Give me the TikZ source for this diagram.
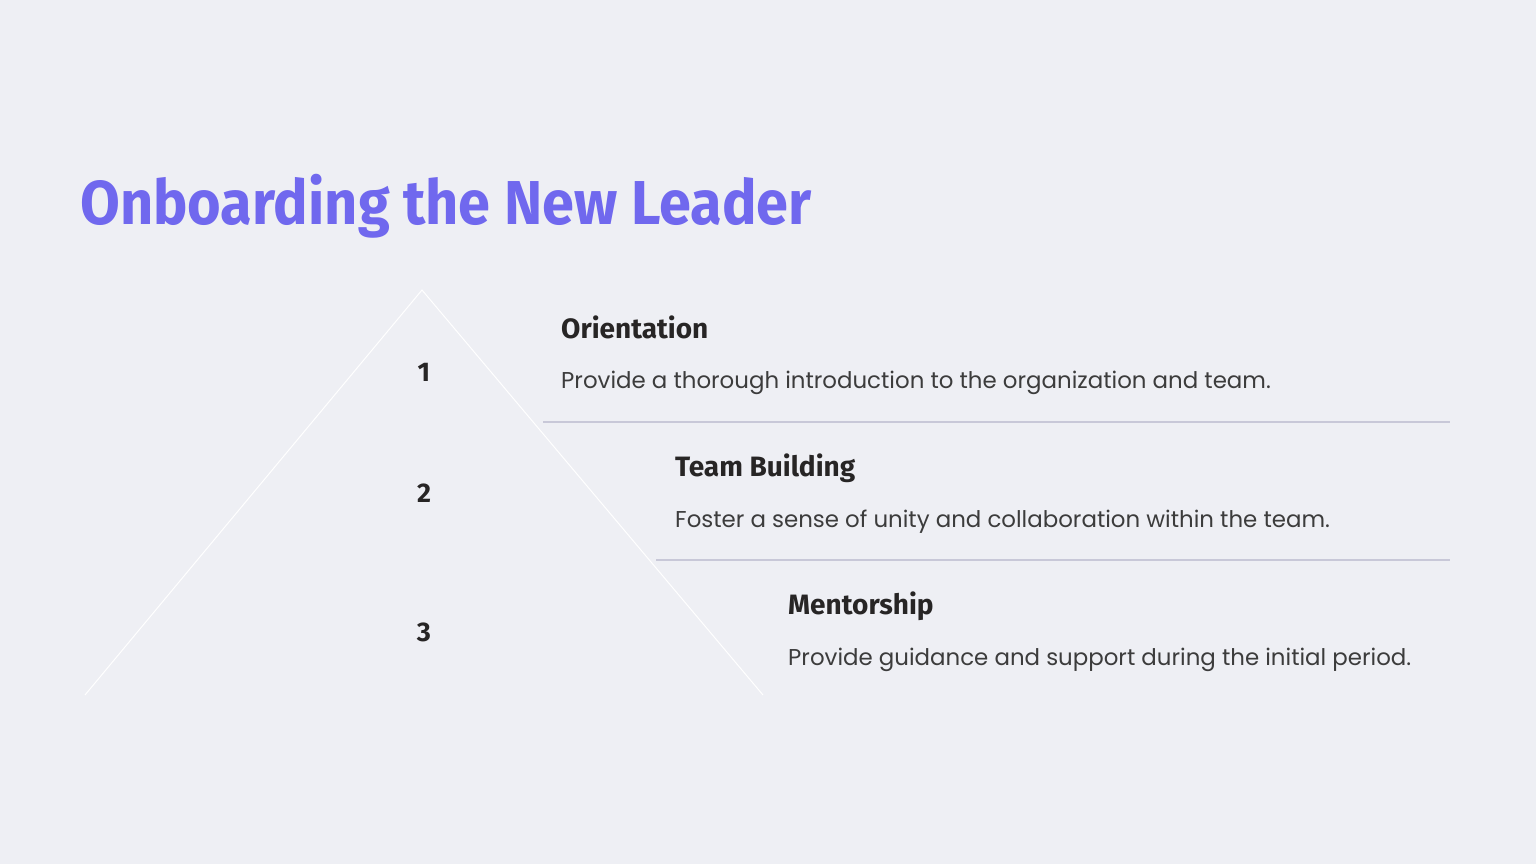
\documentclass[tikz,border=0pt]{standalone}
\usepackage{fontspec}
\setmainfont{Fira Sans}
\newfontfamily\titlefont[FakeStretch=0.93]{Fira Sans}
\newfontfamily\bodyfont{Poppins}
\definecolor{bg}{HTML}{EEEFF4}
\definecolor{titlec}{HTML}{7068EE}
\definecolor{headc}{HTML}{272525}
\definecolor{bodyc}{HTML}{3C3C3C}
\definecolor{rulec}{HTML}{C8C8D8}
\tikzset{
  titletext/.style={anchor=base west, inner sep=0, text=titlec, font=\titlefont\fontsize{62}{70}\selectfont\bfseries},
  headtext/.style={anchor=base west, inner sep=0, text=headc, font=\fontsize{28}{32}\selectfont\bfseries},
  desctext/.style={anchor=base west, inner sep=0, text=bodyc, font=\bodyfont\fontsize{22.9}{27}\selectfont},
  numtext/.style={anchor=base, inner sep=0, text=headc, font=\fontsize{27}{32}\selectfont\bfseries},
  pyr/.style={draw=white, line width=1pt},
  divider/.style={draw=rulec, line width=1.3pt}
}
\begin{document}
\begin{tikzpicture}[x=1pt,y=-1pt]
\fill[bg] (0,0) rectangle (1536,864);
\useasboundingbox (0,0) rectangle (1536,864);
\node[titletext] (title) at (80,224) {Onboarding the New Leader};
\coordinate (apex) at (422,290);
\coordinate (bl) at (85,695);
\coordinate (br) at (763,695);
\draw[pyr] (bl) -- (apex) -- (br);
\coordinate (d1a) at (543,422);
\coordinate (d1b) at (1450,422);
\coordinate (d2a) at (656,560);
\coordinate (d2b) at (1450,560);
\draw[divider] (d1a) -- (d1b);
\draw[divider] (d2a) -- (d2b);
\node[numtext] (n1) at (424,381) {1};
\node[numtext] (n2) at (424,502) {2};
\node[numtext] (n3) at (424,641) {3};
\node[headtext] (h1) at (561,338) {Orientation};
\node[desctext] (t1) at (561,388) {Provide a thorough introduction to the organization and team.};
\node[headtext] (h2) at (675,476) {Team Building};
\node[desctext] (t2) at (675,527) {Foster a sense of unity and collaboration within the team.};
\node[headtext] (h3) at (788,614) {Mentorship};
\node[desctext] (t3) at (788,665) {Provide guidance and support during the initial period.};
\end{tikzpicture}
\end{document}
